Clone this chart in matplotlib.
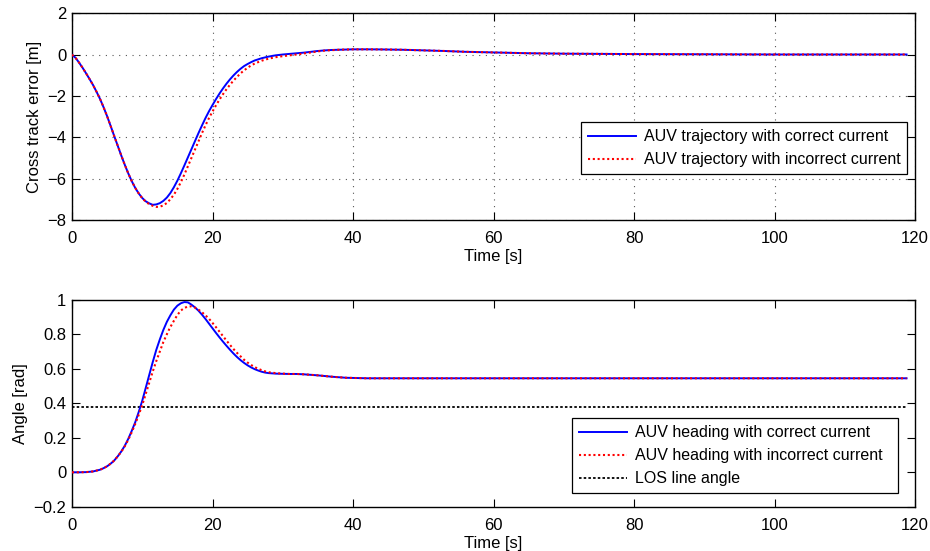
import matplotlib
matplotlib.use("Agg")
import matplotlib.pyplot as plt

plt.rcParams['font.family'] = ['Liberation Sans', 'DejaVu Sans']

# Cross track error [m] vs time [s]
cte_t_correct = [0, 0.5, 1.0, 1.5, 2.0, 2.5, 3.0, 3.5, 4.0, 4.5, 5.0, 5.5, 6.0, 6.5,
                 7.0, 7.5, 8.0, 8.5, 9.0, 9.5, 10.0, 10.5, 11.0, 11.5, 12.0, 12.5,
                 13.0, 13.5, 14.0, 14.5, 15.0, 15.5, 16.0, 16.5, 17.0, 17.5, 18.0,
                 18.5, 19.0, 19.5, 20.0, 20.5, 21.0, 21.5, 22.0, 22.5, 23.0, 23.5,
                 24.0, 24.5, 25.0, 25.5, 26.0, 27.0, 28.0, 29.0, 30.0, 31.0, 32.0,
                 33.0, 34.0, 35.0, 36.0, 37.0, 38.0, 39.0, 40.0, 42.0, 44.0, 47.0,
                 50.0, 53.0, 56.0, 60.0, 65.0, 70.0, 80.0, 90.0, 100.0, 118.8]
cte_correct = [0, -0.15, -0.38, -0.63, -0.9, -1.18, -1.47, -1.8, -2.15, -2.55, -2.98,
               -3.45, -3.93, -4.4, -4.87, -5.32, -5.74, -6.12, -6.45, -6.72, -6.94,
               -7.1, -7.2, -7.27, -7.25, -7.19, -7.08, -6.92, -6.7, -6.42, -6.1,
               -5.74, -5.36, -4.97, -4.58, -4.19, -3.8, -3.43, -3.07, -2.74, -2.44,
               -2.15, -1.88, -1.63, -1.4, -1.19, -1.0, -0.83, -0.68, -0.55, -0.45,
               -0.36, -0.28, -0.17, -0.09, -0.03, 0.01, 0.04, 0.07, 0.1, 0.14, 0.18,
               0.21, 0.23, 0.24, 0.25, 0.26, 0.26, 0.255, 0.24, 0.21, 0.18, 0.14,
               0.11, 0.07, 0.05, 0.03, 0.02, 0.01, 0.01]

cte_t_incorrect = [0, 0.5, 1.0, 1.5, 2.0, 2.5, 3.0, 3.5, 4.0, 4.5, 5.0, 5.5, 6.0, 6.5,
                   7.0, 7.5, 8.0, 8.5, 9.0, 9.5, 10.0, 10.5, 11.0, 11.5, 12.0, 12.5,
                   13.0, 13.5, 14.0, 14.5, 15.0, 15.5, 16.0, 16.5, 17.0, 17.5, 18.0,
                   18.5, 19.0, 19.5, 20.0, 20.5, 21.0, 21.5, 22.0, 22.5, 23.0, 23.5,
                   24.0, 24.5, 25.0, 25.5, 26.0, 27.0, 28.0, 29.0, 30.0, 31.0, 32.0,
                   33.0, 34.0, 35.0, 36.0, 37.0, 38.0, 39.0, 40.0, 42.0, 44.0, 47.0,
                   50.0, 53.0, 56.0, 60.0, 65.0, 70.0, 80.0, 90.0, 100.0, 118.8]
cte_incorrect = [0, -0.15, -0.38, -0.63, -0.9, -1.18, -1.47, -1.8, -2.15, -2.55, -2.98,
                 -3.45, -3.93, -4.4, -4.87, -5.32, -5.74, -6.12, -6.45, -6.72, -6.95,
                 -7.12, -7.24, -7.32, -7.37, -7.36, -7.3, -7.18, -7.0, -6.78, -6.5,
                 -6.17, -5.8, -5.4, -5.0, -4.6, -4.2, -3.8, -3.42, -3.07, -2.75, -2.45,
                 -2.17, -1.91, -1.67, -1.45, -1.25, -1.07, -0.9, -0.76, -0.63, -0.52,
                 -0.43, -0.29, -0.19, -0.12, -0.07, -0.03, 0.01, 0.06, 0.11, 0.16, 0.2,
                 0.22, 0.24, 0.25, 0.26, 0.26, 0.255, 0.24, 0.21, 0.18, 0.14, 0.11,
                 0.07, 0.05, 0.03, 0.02, 0.01, 0.01]

# Heading angle [rad] vs time [s]
hdg_t_correct = [0, 1, 2, 3, 4, 4.5, 5, 5.5, 6, 6.5, 7, 7.5, 8, 8.5, 9, 9.5, 10, 10.5,
                 11, 11.5, 12, 12.5, 13, 13.5, 14, 14.5, 15, 15.5, 16, 16.5, 17, 17.5,
                 18, 18.5, 19, 19.5, 20, 20.5, 21, 21.5, 22, 22.5, 23, 23.5, 24, 24.5,
                 25, 25.5, 26, 26.5, 27, 27.5, 28, 29, 30, 31, 32, 33, 34, 35, 36, 37,
                 38, 39, 40, 42, 118.8]
hdg_correct = [0, 0.0, 0.001, 0.005, 0.015, 0.024, 0.035, 0.05, 0.068, 0.092, 0.12,
               0.153, 0.193, 0.24, 0.29, 0.35, 0.415, 0.49, 0.565, 0.64, 0.71, 0.77,
               0.825, 0.872, 0.91, 0.943, 0.966, 0.98, 0.987, 0.985, 0.972, 0.956,
               0.937, 0.914, 0.889, 0.862, 0.835, 0.808, 0.782, 0.757, 0.733, 0.71,
               0.688, 0.668, 0.65, 0.634, 0.62, 0.608, 0.598, 0.59, 0.583, 0.578,
               0.575, 0.572, 0.571, 0.57, 0.57, 0.568, 0.565, 0.562, 0.558, 0.554,
               0.551, 0.548, 0.547, 0.545, 0.545]

hdg_t_incorrect = [0, 1, 2, 3, 4, 4.5, 5, 5.5, 6, 6.5, 7, 7.5, 8, 8.5, 9, 9.5, 10, 10.5,
                   11, 11.5, 12, 12.5, 13, 13.5, 13.9, 14.5, 15, 15.5, 16, 16.5, 17,
                   17.5, 18, 18.5, 19, 19.5, 20, 20.5, 21, 21.5, 22, 22.5, 23, 23.5,
                   24, 24.5, 25, 25.5, 26, 26.5, 27, 27.5, 28, 29, 30, 31, 32, 33, 34,
                   35, 36, 37, 38, 39, 40, 42, 118.8]
hdg_incorrect = [0, 0.0, 0.001, 0.005, 0.015, 0.024, 0.035, 0.05, 0.068, 0.092, 0.118,
                 0.15, 0.188, 0.232, 0.28, 0.333, 0.39, 0.455, 0.52, 0.585, 0.645, 0.7,
                 0.755, 0.8, 0.835, 0.878, 0.912, 0.938, 0.953, 0.961, 0.962, 0.955,
                 0.943, 0.928, 0.91, 0.89, 0.866, 0.841, 0.815, 0.789, 0.763, 0.738,
                 0.714, 0.692, 0.672, 0.652, 0.636, 0.622, 0.61, 0.6, 0.592, 0.585,
                 0.58, 0.575, 0.572, 0.57, 0.57, 0.568, 0.565, 0.562, 0.558, 0.554,
                 0.551, 0.548, 0.547, 0.545, 0.545]

los_t = [0, 118.8]
los_angle = [0.38, 0.38]

x_ticks = [0, 20, 40, 60, 80, 100, 120]
cte_ticks = [-8, -6, -4, -2, 0, 2]
cte_ticklabels = ['\u22128', '\u22126', '\u22124', '\u22122', '0', '2']
hdg_ticks = [-0.2, 0, 0.2, 0.4, 0.6, 0.8, 1]
hdg_ticklabels = ['\u22120.2', '0', '0.2', '0.4', '0.6', '0.8', '1']

FS = 12
LEG_FS = 11.5

fig = plt.figure(figsize=(9.3, 5.51), dpi=100)
ax1 = fig.add_axes([72 / 930, 1 - 219.9 / 551, 843 / 930, 206.5 / 551])
ax2 = fig.add_axes([72 / 930, 1 - 506.8 / 551, 843 / 930, 207 / 551])


def style_axes(ax):
    for s in ax.spines.values():
        s.set_linewidth(1.0)
        s.set_color('black')
    ax.tick_params(direction='in', top=True, right=True, length=6, width=0.8,
                   labelsize=FS)
    ax.tick_params(axis='x', pad=8)
    ax.tick_params(axis='y', pad=4)
    ax.set_xlim(0, 120)
    ax.set_xticks(x_ticks)


def add_legend(ax, x0, y_top, width):
    leg = ax.legend(loc='upper left', bbox_to_anchor=(x0, y_top, width, 0),
                    mode='expand', borderaxespad=0,
                    fontsize=LEG_FS, fancybox=False, framealpha=1, edgecolor='black',
                    handlelength=3.0, handletextpad=0.5, borderpad=0.45,
                    labelspacing=0.5)
    leg.get_frame().set_linewidth(0.9)
    return leg


# Cross track error
ax1.plot(cte_t_correct, cte_correct, color='#0000ff', lw=1.4,
         label='AUV trajectory with correct current', zorder=3)
ax1.plot(cte_t_incorrect, cte_incorrect, color='#ff0000', lw=1.5,
         linestyle=(0, (1, 1.3)), label='AUV trajectory with incorrect current', zorder=4)
style_axes(ax1)
ax1.set_ylim(-8, 2)
ax1.set_yticks(cte_ticks)
ax1.set_yticklabels(cte_ticklabels)
ax1.grid(True, color='#555555', linestyle=(0, (1, 5)), linewidth=0.8)
ax1.set_xlabel('Time [s]', fontsize=FS, labelpad=2)
ax1.set_ylabel('Cross track error [m]', fontsize=FS, labelpad=4)
add_legend(ax1, (581 - 72) / 843, 1 - (122 - 13.4) / 206.5, 326 / 843)

# Heading angle
ax2.plot(hdg_t_correct, hdg_correct, color='#0000ff', lw=1.4,
         label='AUV heading with correct current', zorder=3)
ax2.plot(hdg_t_incorrect, hdg_incorrect, color='#ff0000', lw=1.5,
         linestyle=(0, (1, 1.3)), label='AUV heading with incorrect current', zorder=4)
ax2.plot(los_t, los_angle, color='black', lw=1.3, linestyle=(0, (1.4, 1.2)),
         label='LOS line angle', zorder=2)
style_axes(ax2)
ax2.set_ylim(-0.2, 1)
ax2.set_yticks(hdg_ticks)
ax2.set_yticklabels(hdg_ticklabels)
ax2.set_xlabel('Time [s]', fontsize=FS, labelpad=2)
ax2.set_ylabel('Angle [rad]', fontsize=FS, labelpad=4)
add_legend(ax2, (572 - 72) / 843, 1 - (418 - 299.8) / 207, 326 / 843)

fig.savefig('out.png', dpi=100)
